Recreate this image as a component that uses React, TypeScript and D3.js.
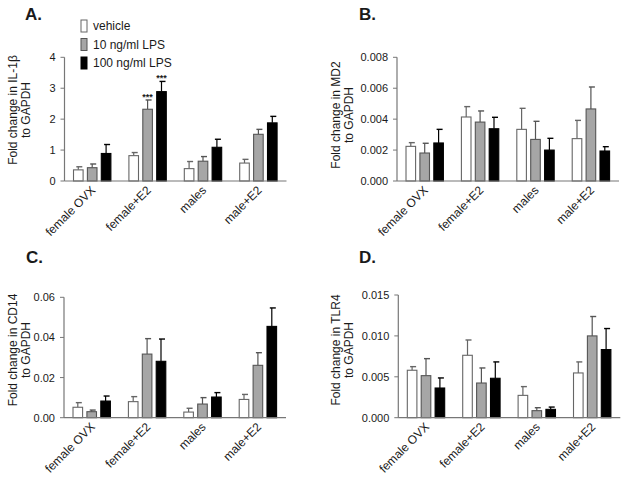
import React from "react";
import * as d3 from "d3";

const groups = ["female OVX", "female+E2", "males", "male+E2"];
const seriesNames = ["vehicle", "10 ng/ml LPS", "100 ng/ml LPS"];

// Panel A: IL-1β
const il1bVehicle = [0.36, 0.82, 0.4, 0.58];
const il1bVehicleErr = [0.1, 0.1, 0.23, 0.12];
const il1bLps10 = [0.43, 2.32, 0.64, 1.51];
const il1bLps10Err = [0.12, 0.3, 0.15, 0.16];
const il1bLps100 = [0.89, 2.89, 1.09, 1.88];
const il1bLps100Err = [0.29, 0.33, 0.26, 0.21];
const il1bTicks = [0, 1, 2, 3, 4];
const il1bSignif = [["", "", "", ""], ["", "***", "", ""], ["", "***", "", ""]];

// Panel B: MD2
const md2Vehicle = [0.00224, 0.00414, 0.00334, 0.00274];
const md2VehicleErr = [0.00024, 0.00067, 0.00136, 0.00118];
const md2Lps10 = [0.00181, 0.00381, 0.00269, 0.00466];
const md2Lps10Err = [0.00063, 0.00072, 0.00117, 0.00142];
const md2Lps100 = [0.00246, 0.00338, 0.002, 0.00194];
const md2Lps100Err = [0.00088, 0.00074, 0.00076, 0.00028];
const md2Ticks = [0, 0.002, 0.004, 0.006, 0.008];

// Panel C: CD14
const cd14Vehicle = [0.0052, 0.008, 0.0028, 0.0091];
const cd14VehicleErr = [0.0023, 0.0025, 0.0019, 0.0025];
const cd14Lps10 = [0.003, 0.0317, 0.0068, 0.0261];
const cd14Lps10Err = [0.0008, 0.0077, 0.0032, 0.0063];
const cd14Lps100 = [0.0083, 0.0281, 0.0103, 0.0455];
const cd14Lps100Err = [0.0025, 0.0111, 0.0022, 0.0092];
const cd14Ticks = [0, 0.02, 0.04, 0.06];

// Panel D: TLR4
const tlr4Vehicle = [0.0058, 0.00763, 0.00273, 0.00547];
const tlr4VehicleErr = [0.00044, 0.00187, 0.00107, 0.00135];
const tlr4Lps10 = [0.00514, 0.00424, 0.00086, 0.01];
const tlr4Lps10Err = [0.00208, 0.00184, 0.00036, 0.00237];
const tlr4Lps100 = [0.00363, 0.00482, 0.00102, 0.00833];
const tlr4Lps100Err = [0.00123, 0.002, 0.00028, 0.00257];
const tlr4Ticks = [0, 0.005, 0.01, 0.015];

const FILL = ["#ffffff", "#a6a6a6", "#000000"];
const STROKE = ["#666666", "#555555", "#000000"];
const AXIS = "#777777";
const TEXT = "#1a1a1a";
const FONT = "'Liberation Sans', Arial, sans-serif";

type PanelProps = {
  letter: string;
  letterX: number;
  letterY: number;
  x0: number;
  yTop: number;
  yBottom: number;
  yMax: number;
  ticks: number[];
  fmt: string;
  title: string;
  titleX: number;
  titleY: number;
  means: number[][];
  errs: number[][];
  signif?: string[][];
};

function Panel(p: PanelProps) {
  const width = 222;
  const x = d3.scaleBand<string>().domain(groups).range([p.x0, p.x0 + 221.6]).padding(0);
  const xi = d3.scaleBand<number>().domain([0, 1, 2]).range([-23, 23]).padding(0.31);
  const y = d3.scaleLinear().domain([0, p.yMax]).range([p.yBottom, p.yTop]);
  const f = d3.format(p.fmt);
  const bw = xi.bandwidth();
  return (
    <g>
      <text x={p.letterX} y={p.letterY} fontSize={17} fontWeight="bold" fill={TEXT} fontFamily={FONT}>
        {p.letter}
      </text>
      {/* y-axis title */}
      <g transform={`translate(${p.titleX},${p.titleY}) rotate(-90)`}>
        <text x={0} y={0} textAnchor="middle" fontSize={12} fill={TEXT} fontFamily={FONT}>
          {p.title}
        </text>
        <text x={0} y={13} textAnchor="middle" fontSize={12} fill={TEXT} fontFamily={FONT}>
          to GAPDH
        </text>
      </g>
      {/* bars */}
      {groups.map((g, gi) => {
        const cx = (x(g) as number) + x.bandwidth() / 2;
        return (
          <g key={g}>
            {[0, 1, 2].map((si) => {
              const v = p.means[si][gi];
              const e = p.errs[si][gi];
              const bx = cx + (xi(si) as number);
              const bcx = bx + bw / 2;
              const top = y(v);
              const et = y(v + e);
              const sig = p.signif ? p.signif[si][gi] : "";
              return (
                <g key={si}>
                  <line x1={bcx} x2={bcx} y1={top} y2={et} stroke={STROKE[si]} strokeWidth={1.2} />
                  <line x1={bcx - 2} x2={bcx + 4} y1={et} y2={et} stroke={STROKE[si]} strokeWidth={1.4} />
                  <rect
                    x={bx}
                    y={top}
                    width={bw}
                    height={p.yBottom - top}
                    fill={FILL[si]}
                    stroke={STROKE[si]}
                    strokeWidth={1.1}
                  />
                  {sig ? (
                    <text x={bcx} y={et} textAnchor="middle" fontSize={9} fontWeight="bold" fill={TEXT} fontFamily={FONT}>
                      {sig}
                    </text>
                  ) : null}
                </g>
              );
            })}
            <text
              transform={`translate(${cx + 4},${p.yBottom + 10}) rotate(-45)`}
              textAnchor="end"
              fontSize={12}
              fill={TEXT}
              fontFamily={FONT}
            >
              {g}
            </text>
          </g>
        );
      })}
      {/* axes */}
      <line x1={p.x0} x2={p.x0} y1={p.yTop} y2={p.yBottom} stroke={AXIS} strokeWidth={1.2} />
      <line x1={p.x0} x2={p.x0 + width} y1={p.yBottom} y2={p.yBottom} stroke={AXIS} strokeWidth={1.2} />
      {p.ticks.map((t) => (
        <g key={t}>
          <line x1={p.x0 - 4} x2={p.x0} y1={y(t)} y2={y(t)} stroke={AXIS} strokeWidth={1} />
          <text x={p.x0 - 9} y={y(t) + 4} textAnchor="end" fontSize={11} fill={TEXT} fontFamily={FONT}>
            {f(t)}
          </text>
        </g>
      ))}
    </g>
  );
}

function Legend() {
  return (
    <g>
      {seriesNames.map((s, i) => (
        <g key={s}>
          <rect x={81} y={20 + i * 18.5} width={6} height={12} fill={FILL[i]} stroke={STROKE[i]} strokeWidth={1} />
          <text x={93} y={30 + i * 18.5} fontSize={12} fill={TEXT} fontFamily={FONT}>
            {s}
          </text>
        </g>
      ))}
    </g>
  );
}

export default function App() {
  return (
    <svg width={624} height={479} style={{ position: "absolute", left: 0, top: 0, background: "#fff" }}>
      <rect width={624} height={479} fill="#fff" />
      <Panel
        letter="A."
        letterX={25}
        letterY={20}
        x0={64.5}
        yTop={57.3}
        yBottom={181}
        yMax={4}
        ticks={il1bTicks}
        fmt="d"
        title="Fold change in IL-1β"
        titleX={17}
        titleY={110}
        means={[il1bVehicle, il1bLps10, il1bLps100]}
        errs={[il1bVehicleErr, il1bLps10Err, il1bLps100Err]}
        signif={il1bSignif}
      />
      <Panel
        letter="B."
        letterX={359}
        letterY={20}
        x0={397}
        yTop={57.3}
        yBottom={181}
        yMax={0.008}
        ticks={md2Ticks}
        fmt=".3f"
        title="Fold change in MD2"
        titleX={340}
        titleY={115}
        means={[md2Vehicle, md2Lps10, md2Lps100]}
        errs={[md2VehicleErr, md2Lps10Err, md2Lps100Err]}
      />
      <Panel
        letter="C."
        letterX={26}
        letterY={263}
        x0={64}
        yTop={297.3}
        yBottom={417.7}
        yMax={0.06}
        ticks={cd14Ticks}
        fmt=".2f"
        title="Fold change in CD14"
        titleX={17}
        titleY={350}
        means={[cd14Vehicle, cd14Lps10, cd14Lps100]}
        errs={[cd14VehicleErr, cd14Lps10Err, cd14Lps100Err]}
      />
      <Panel
        letter="D."
        letterX={359}
        letterY={263}
        x0={398.3}
        yTop={295}
        yBottom={417.7}
        yMax={0.015}
        ticks={tlr4Ticks}
        fmt=".3f"
        title="Fold change in TLR4"
        titleX={340}
        titleY={350}
        means={[tlr4Vehicle, tlr4Lps10, tlr4Lps100]}
        errs={[tlr4VehicleErr, tlr4Lps10Err, tlr4Lps100Err]}
      />
      <Legend />
    </svg>
  );
}
